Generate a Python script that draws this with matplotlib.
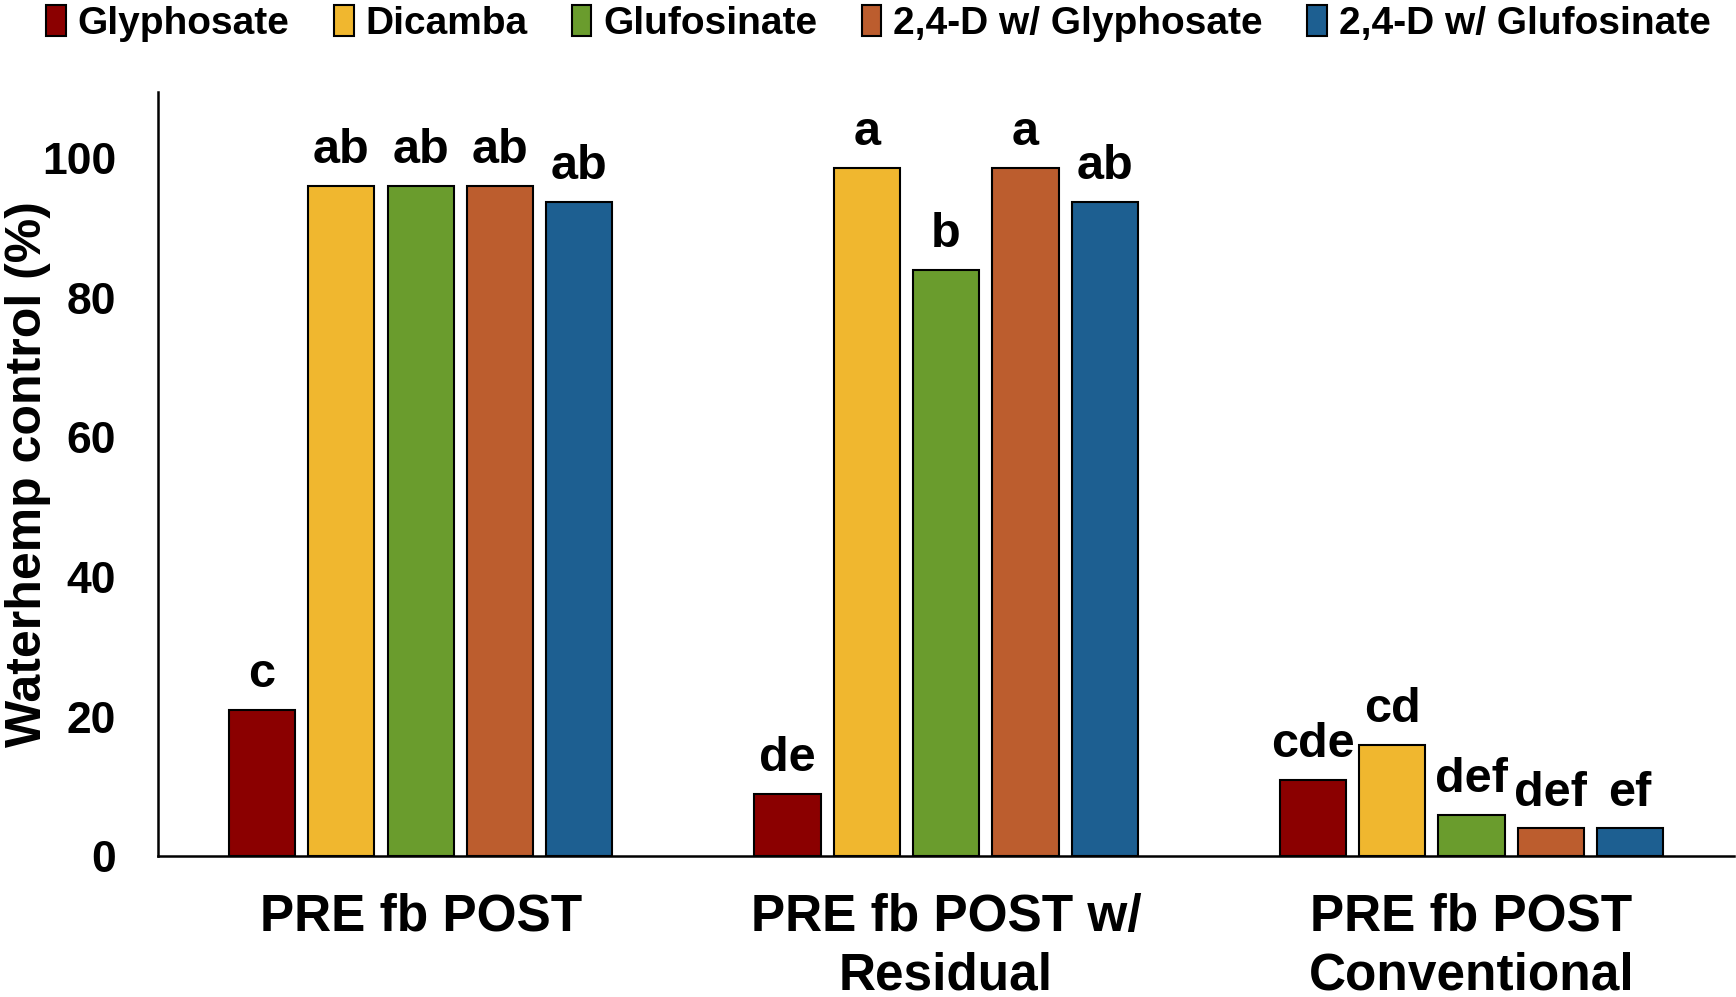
import numpy as np
import matplotlib
matplotlib.use('Agg')
import matplotlib.pyplot as plt

# data
groups = ['PRE fb POST', 'PRE fb POST w/\nResidual', 'PRE fb POST\nConventional']
herbicides = ['Glyphosate', 'Dicamba', 'Glufosinate', '2,4-D w/ Glyphosate', '2,4-D w/ Glufosinate']
glyphosate = [21, 9, 11]
dicamba = [96, 98.6, 16]
glufosinate = [96, 84, 6]
d24_glyphosate = [96, 98.6, 4]
d24_glufosinate = [93.7, 93.7, 4]
letters = [
    ['c', 'de', 'cde'],
    ['ab', 'a', 'cd'],
    ['ab', 'b', 'def'],
    ['ab', 'a', 'def'],
    ['ab', 'ab', 'ef'],
]
colors = ['#8B0000', '#F0B72F', '#6A9C2D', '#BC5D2E', '#1D5F91']

series = [glyphosate, dicamba, glufosinate, d24_glyphosate, d24_glufosinate]

plt.rcParams['font.family'] = ['Liberation Sans', 'DejaVu Sans']
plt.rcParams['font.weight'] = 'bold'

fig = plt.figure(figsize=(17.36, 9.97), dpi=100)
ax = fig.add_axes([0.091, 0.141, 0.908, 0.767])

x = np.arange(len(groups))
step = 0.151
width = 0.126
for i, (vals, name, col) in enumerate(zip(series, herbicides, colors)):
    pos = x + (i - 2) * step
    ax.bar(pos, vals, width, color=col, edgecolor='black', linewidth=1.5, label=name)
    # significance letters above each bar
    for p, v, lab in zip(pos, vals, letters[i]):
        ax.text(p, v + 1.8, lab, ha='center', va='bottom', fontsize=35, fontweight='bold')

ax.set_xlim(-0.5, 2.5)
ax.set_ylim(0, 109.5)
ax.set_yticks([0, 20, 40, 60, 80, 100])
ax.set_xticks(x)
ax.set_xticklabels(groups, fontsize=37, fontweight='bold', linespacing=1.25)
ax.tick_params(axis='x', length=0, pad=26)
ax.tick_params(axis='y', length=0, pad=30, labelsize=32)
ax.set_ylabel('Waterhemp control (%)', fontsize=36, fontweight='bold')
ax.yaxis.set_label_coords(-0.068, 0.5)

for s in ['top', 'right']:
    ax.spines[s].set_visible(False)
for s in ['left', 'bottom']:
    ax.spines[s].set_linewidth(1.8)

fig.legend(loc='upper center', bbox_to_anchor=(0.506, 1.03), ncol=5, frameon=False,
           fontsize=28, handlelength=0.5, handleheight=0.85, handletextpad=0.3,
           columnspacing=1.15)

fig.savefig('out.png', dpi=100)
